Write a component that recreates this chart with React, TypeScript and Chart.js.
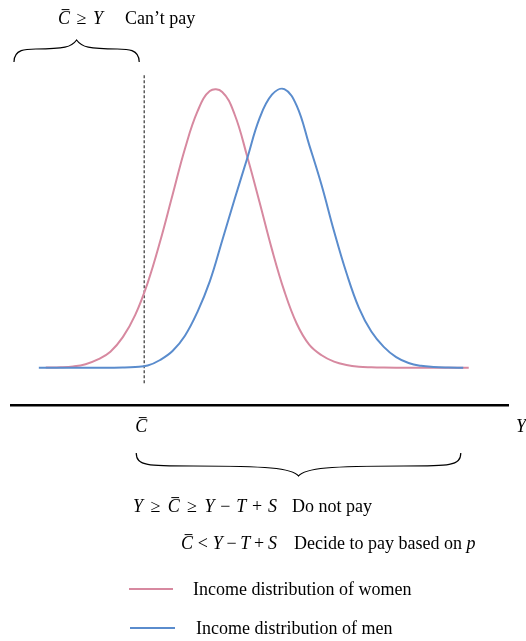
import React, { useEffect, useRef } from "react";
import { Chart, registerables } from "chart.js";

Chart.register(...registerables);

// ---- Data ----
const womenX = [7, 10, 12.5, 15, 17.5, 20, 22.5, 25, 27.5, 30, 32.5, 35, 37.5, 40, 42.5, 45, 47.5, 50, 52.5, 55, 57.5, 60, 62.5, 65, 67.5, 70, 72.5, 75, 80, 85, 92.1];
const womenY = [0.001, 0.002, 0.005, 0.013, 0.03, 0.058, 0.11, 0.19, 0.305, 0.453, 0.62, 0.786, 0.919, 0.993, 0.99, 0.909, 0.76, 0.595, 0.425, 0.275, 0.158, 0.083, 0.045, 0.022, 0.01, 0.004, 0.002, 0.001, 0, 0, 0];

const menX = [5.6, 10, 15, 20, 22.5, 25, 27.5, 30, 32.5, 35, 37.5, 40, 42.5, 45, 47.5, 50, 52.5, 55, 57.5, 60, 62.5, 65, 67.5, 70, 72.5, 75, 77.5, 80, 82.5, 85, 88, 91];
const menY = [0, 0, 0, 0.0005, 0.001, 0.003, 0.008, 0.028, 0.06, 0.115, 0.2, 0.31, 0.457, 0.606, 0.75, 0.895, 0.98, 1.0, 0.94, 0.8, 0.655, 0.49, 0.34, 0.215, 0.13, 0.075, 0.038, 0.017, 0.007, 0.003, 0.001, 0];

// threshold C-bar (x position) and dashed line extent (y)
const cBarX = 26.8;
const cBarLineY = [1.05, -0.055];

// brace extents on the x axis
const topBrace = [0.6, 25.8];
const bottomBrace = [25.2, 90.5];

const legendLabels = ["Income distribution of women", "Income distribution of men"];
const PINK = "#d789a0";
const BLUE = "#5a8ccd";

const FONT = '"Liberation Serif", "DejaVu Serif", serif';

type Run = { t: string; it?: boolean; bar?: boolean; post?: number };

function runFont(r: Run, size: number) {
  return `${r.it ? "italic " : ""}${size}px ${FONT}`;
}

function drawRuns(ctx: CanvasRenderingContext2D, runs: Run[], x: number, y: number, size: number, target?: number) {
  // natural width
  let natural = 0;
  let gapWeight = 0;
  runs.forEach((r) => {
    ctx.font = runFont(r, size);
    natural += ctx.measureText(r.t).width + (r.post || 0) * size;
    gapWeight += r.post || 0;
  });
  const extra = target && gapWeight > 0 ? (target - natural) / gapWeight : 0;
  let cx = x;
  for (const r of runs) {
    ctx.font = runFont(r, size);
    ctx.fillText(r.t, cx, y);
    const w = ctx.measureText(r.t).width;
    if (r.bar) {
      ctx.save();
      ctx.lineWidth = 1;
      ctx.strokeStyle = "#000";
      ctx.beginPath();
      const by = y - size * 0.8;
      ctx.moveTo(cx + w * 0.3, by);
      ctx.lineTo(cx + w * 0.95, by);
      ctx.stroke();
      ctx.restore();
    }
    cx += w + (r.post || 0) * (size + extra);
  }
  return cx;
}

const REL = 0.28;
const BIN = 0.22;

function drawBrace(ctx: CanvasRenderingContext2D, x1: number, x2: number, yEnd: number, yBody: number, yTip: number) {
  const xm = (x1 + x2) / 2;
  const hw = xm - x1;
  ctx.save();
  ctx.strokeStyle = "#000";
  ctx.lineWidth = 1.2;
  ctx.beginPath();
  ctx.moveTo(x1, yEnd);
  ctx.bezierCurveTo(x1, yBody, x1 + Math.min(12, hw * 0.2), yBody, x1 + hw * 0.35, yBody);
  ctx.bezierCurveTo(xm - hw * 0.2, yBody, xm - Math.min(6, hw * 0.08), yBody + (yTip - yBody) * 0.2, xm, yTip);
  ctx.bezierCurveTo(xm + Math.min(6, hw * 0.08), yBody + (yTip - yBody) * 0.2, xm + hw * 0.2, yBody, x2 - hw * 0.35, yBody);
  ctx.bezierCurveTo(x2 - Math.min(12, hw * 0.2), yBody, x2, yBody, x2, yEnd);
  ctx.stroke();
  ctx.restore();
}

const annotations = {
  id: "annotations",
  afterDraw(chart: any) {
    const ctx: CanvasRenderingContext2D = chart.ctx;
    const xs = chart.scales.x;
    const S = 18;
    ctx.save();
    ctx.fillStyle = "#000";
    ctx.textBaseline = "alphabetic";

    // top brace + label
    drawBrace(ctx, xs.getPixelForValue(topBrace[0]), xs.getPixelForValue(topBrace[1]), 62, 49, 40);
    drawRuns(ctx, [
      { t: "C", it: true, bar: true, post: REL },
      { t: "≥", post: REL },
      { t: "Y", it: true },
    ], 58, 24, S, 45);
    ctx.font = `${S}px ${FONT}`;
    ctx.fillText("Can’t pay", 125, 24);

    // axis labels
    drawRuns(ctx, [{ t: "C", it: true, bar: true }], xs.getPixelForValue(cBarX) - 9, 432, S);
    drawRuns(ctx, [{ t: "Y", it: true }], 516, 432, S);

    // bottom brace
    drawBrace(ctx, xs.getPixelForValue(bottomBrace[0]), xs.getPixelForValue(bottomBrace[1]), 453, 466, 476);

    // condition lines
    drawRuns(ctx, [
      { t: "Y", it: true, post: REL },
      { t: "≥", post: REL },
      { t: "C", it: true, bar: true, post: REL },
      { t: "≥", post: REL },
      { t: "Y", it: true, post: BIN },
      { t: "−", post: BIN },
      { t: "T", it: true, post: BIN },
      { t: "+", post: BIN },
      { t: "S", it: true },
    ], 133, 512, S, 144);
    ctx.font = `${S}px ${FONT}`;
    ctx.fillText("Do not pay", 292, 512);

    drawRuns(ctx, [
      { t: "C", it: true, bar: true, post: REL },
      { t: "<", post: REL },
      { t: "Y", it: true, post: BIN },
      { t: "−", post: BIN },
      { t: "T", it: true, post: BIN },
      { t: "+", post: BIN },
      { t: "S", it: true },
    ], 181, 549, S, 96);
    drawRuns(ctx, [{ t: "Decide to pay based on " }, { t: "p", it: true }], 294, 549, S);

    // legend
    const items = [
      { c: PINK, y: 589, x1: 129, x2: 173, tx: 193 },
      { c: BLUE, y: 628, x1: 130, x2: 175, tx: 196 },
    ];
    items.forEach((it, i) => {
      ctx.save();
      ctx.strokeStyle = it.c;
      ctx.lineWidth = 2;
      ctx.beginPath();
      ctx.moveTo(it.x1, it.y);
      ctx.lineTo(it.x2, it.y);
      ctx.stroke();
      ctx.restore();
      ctx.font = `${S}px ${FONT}`;
      ctx.fillStyle = "#000";
      ctx.fillText(legendLabels[i], it.tx, it.y + 6);
    });
    ctx.restore();
  },
};

export default function App() {
  const ref = useRef<HTMLCanvasElement | null>(null);
  useEffect(() => {
    if (!ref.current) return;
    const chart = new Chart(ref.current, {
      type: "line",
      data: {
        datasets: [
          {
            label: legendLabels[1],
            data: menX.map((x, i) => ({ x, y: menY[i] })),
            borderColor: BLUE,
            borderWidth: 2,
            pointRadius: 0,
            tension: 0.4,
            fill: false,
            order: 0,
          },
          {
            label: legendLabels[0],
            data: womenX.map((x, i) => ({ x, y: womenY[i] })),
            borderColor: PINK,
            borderWidth: 2,
            pointRadius: 0,
            tension: 0.4,
            fill: false,
            order: 1,
          },
          {
            label: "threshold",
            data: cBarLineY.map((y) => ({ x: cBarX, y })),
            borderColor: "#333",
            borderWidth: 1.2,
            borderDash: [3, 2],
            pointRadius: 0,
            fill: false,
            order: 2,
          },
        ],
      },
      options: {
        responsive: false,
        animation: false,
        devicePixelRatio: 1,
        layout: { padding: { left: 11, right: 18, top: 33.4, bottom: 235.3 } },
        plugins: { legend: { display: false }, tooltip: { enabled: false } },
        scales: {
          x: {
            type: "linear",
            min: 0,
            max: 100,
            display: true,
            grid: { display: false, drawTicks: false },
            ticks: { display: false },
            border: { display: true, color: "#000", width: 2.5 },
          },
          y: { type: "linear", min: -0.136, max: 1.2, display: false },
        },
      },
      plugins: [annotations],
    } as any);
    return () => chart.destroy();
  }, []);
  return (
    <div style={{ position: "fixed", left: 0, top: 0, width: 526, height: 641, background: "#fff" }}>
      <canvas ref={ref} width={526} height={641} style={{ display: "block" }} />
    </div>
  );
}
